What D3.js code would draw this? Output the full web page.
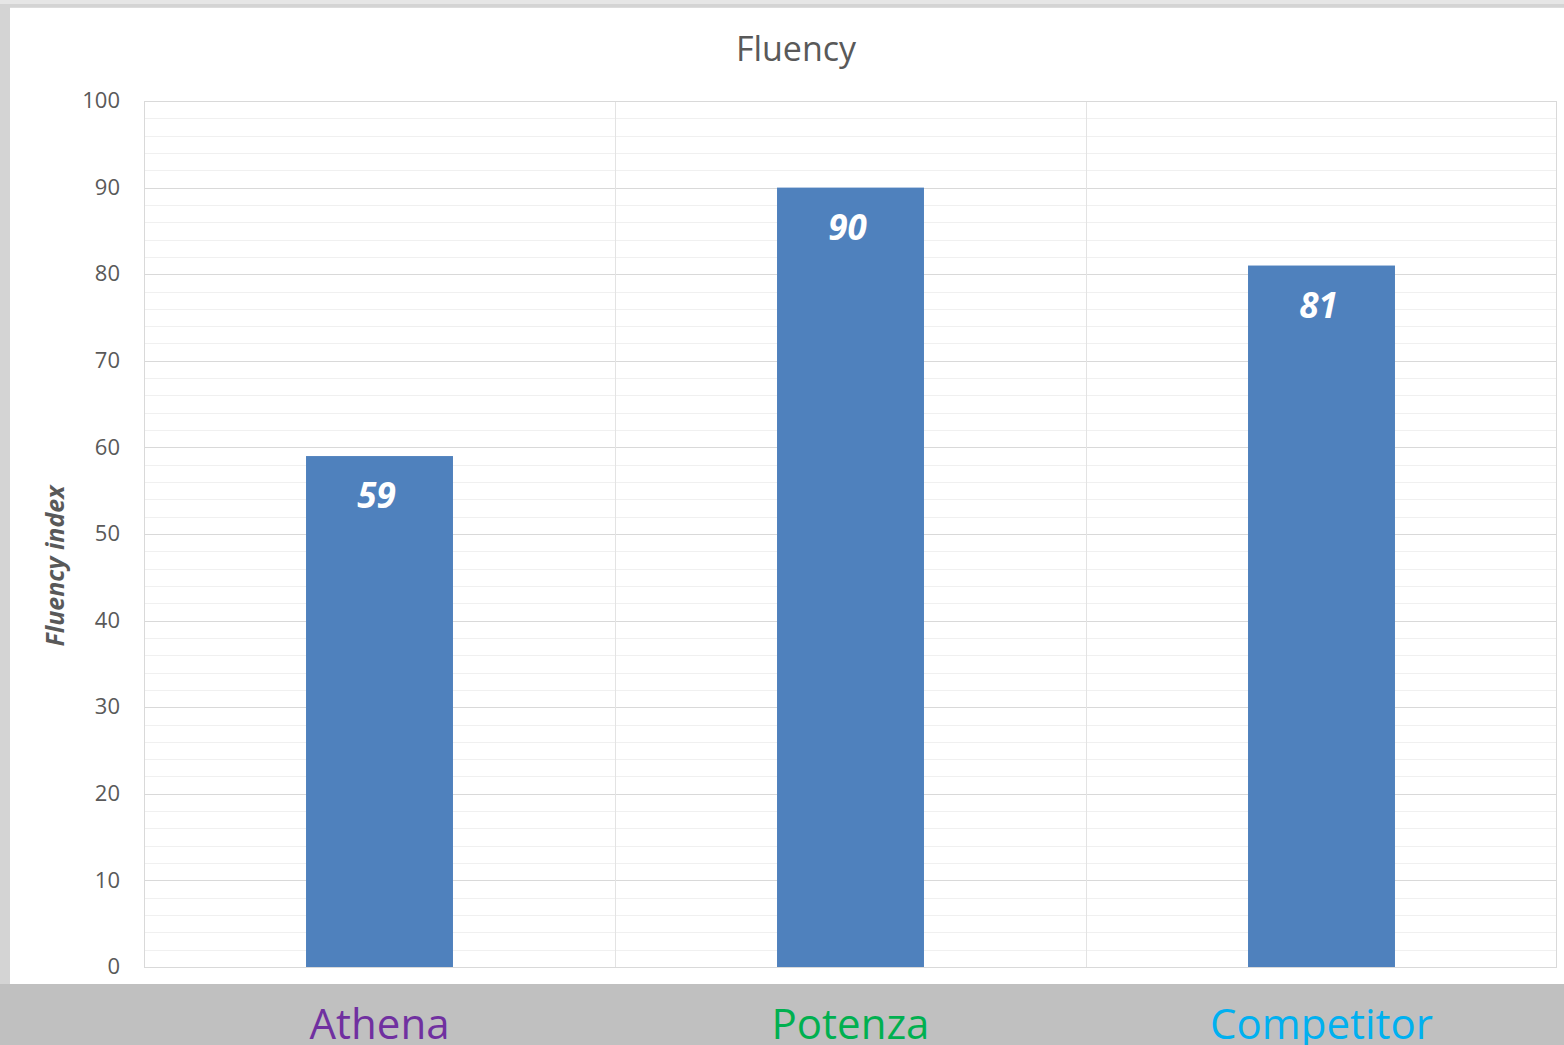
<!DOCTYPE html>
<html><head><meta charset="utf-8">
<script src="https://cdn.jsdelivr.net/npm/d3@7"></script>
<style>html,body{margin:0;padding:0;background:#c0c0c0;overflow:hidden}</style>
</head><body><svg id="c" width="1564" height="1045"></svg>
<script>
const categories = ["Athena", "Potenza", "Competitor"];
const values = [59, 90, 81];
const categoryColors = ["#7030A0", "#00B050", "#00B0F0"];
const yTicks = [0, 10, 20, 30, 40, 50, 60, 70, 80, 90, 100];
const minorTicks = d3.range(0, 101, 2);
const title = "Fluency";
const yTitle = "Fluency index";

const svg = d3.select("#c");
const W = 1564, H = 1045;
const FONT = "'Open Sans', 'Noto Sans', sans-serif";

// background frame
svg.append("rect").attr("x",0).attr("y",0).attr("width",W).attr("height",H).attr("fill","#c0c0c0");
svg.append("rect").attr("x",0).attr("y",0).attr("width",W).attr("height",984).attr("fill","#d4d4d4");
svg.append("rect").attr("x",0).attr("y",0).attr("width",W).attr("height",4).attr("fill","#e6e6e6");
svg.append("rect").attr("x",10).attr("y",8).attr("width",W-10).attr("height",976).attr("fill","#ffffff");
svg.append("line").attr("x1",10).attr("x2",W).attr("y1",7.5).attr("y2",7.5).attr("stroke","#dcdcdc");

const m = {left:144, right:1557, top:101, bottom:967};
const x = d3.scaleBand().domain(categories).range([m.left, m.right]).paddingInner(0).paddingOuter(0);
const y = d3.scaleLinear().domain([0,100]).range([m.bottom, m.top]);

const g = svg.append("g");
// minor grid
g.selectAll("line.minor").data(minorTicks.filter(d=>d%10!==0)).join("line")
 .attr("x1",m.left).attr("x2",m.right).attr("y1",d=>Math.round(y(d))+0.5).attr("y2",d=>Math.round(y(d))+0.5)
 .attr("stroke","#f0f0f0").attr("stroke-width",1);
// major grid
g.selectAll("line.major").data(yTicks).join("line")
 .attr("x1",m.left).attr("x2",m.right).attr("y1",d=>Math.round(y(d))+0.5).attr("y2",d=>Math.round(y(d))+0.5)
 .attr("stroke","#d9d9d9").attr("stroke-width",1);
// vertical category separators
g.selectAll("line.vsep").data(categories.slice(1)).join("line")
 .attr("x1",d=>Math.round(x(d))+0.5).attr("x2",d=>Math.round(x(d))+0.5).attr("y1",m.top).attr("y2",m.bottom)
 .attr("stroke","#e3e3e3");
// plot border
g.append("rect").attr("x",m.left+0.5).attr("y",m.top+0.5).attr("width",m.right-m.left-1).attr("height",m.bottom-m.top)
 .attr("fill","none").attr("stroke","#d9d9d9");

// bars
const bw = x.bandwidth()*0.312;
g.selectAll("rect.bar").data(values).join("rect")
 .attr("x",(d,i)=>x(categories[i])+x.bandwidth()/2-bw/2)
 .attr("y",d=>y(d)).attr("width",bw).attr("height",d=>y(0)-y(d))
 .attr("fill","#4F81BD");

// bar labels
g.selectAll("text.val").data(values).join("text")
 .attr("x",(d,i)=>x(categories[i])+x.bandwidth()/2-3)
 .attr("y",d=>y(d)+52)
 .attr("text-anchor","middle").attr("fill","#ffffff")
 .attr("font-family",FONT).attr("font-size",35).attr("font-weight","bold").attr("font-style","italic")
 .text(d=>d);

// y axis tick labels
const yAxis = d3.axisLeft(y).tickValues(yTicks).tickSize(0).tickPadding(0);
const ya = svg.append("g").attr("transform",`translate(${120},0)`).call(yAxis);
ya.select(".domain").remove();
ya.selectAll("text").attr("font-family",FONT).attr("font-size",22).attr("fill","#595959").attr("dy","0.3em");

// category axis labels
const xAxis = d3.axisBottom(x).tickSize(0).tickPadding(0);
const xa = svg.append("g").attr("transform",`translate(0,1039)`).call(xAxis);
xa.select(".domain").remove();
xa.selectAll("text").attr("font-family",FONT).attr("font-size",42).attr("dy",0)
 .attr("fill",(d,i)=>categoryColors[i]);

// title
svg.append("text").attr("x",796).attr("y",61).attr("text-anchor","middle")
 .attr("font-family",FONT).attr("font-size",34).attr("fill","#595959").text(title);

// y title
svg.append("text").attr("transform","translate(64,566) rotate(-90)").attr("text-anchor","middle")
 .attr("font-family",FONT).attr("font-size",25).attr("font-weight","bold").attr("font-style","italic")
 .attr("fill","#595959").text(yTitle);
</script></body></html>
